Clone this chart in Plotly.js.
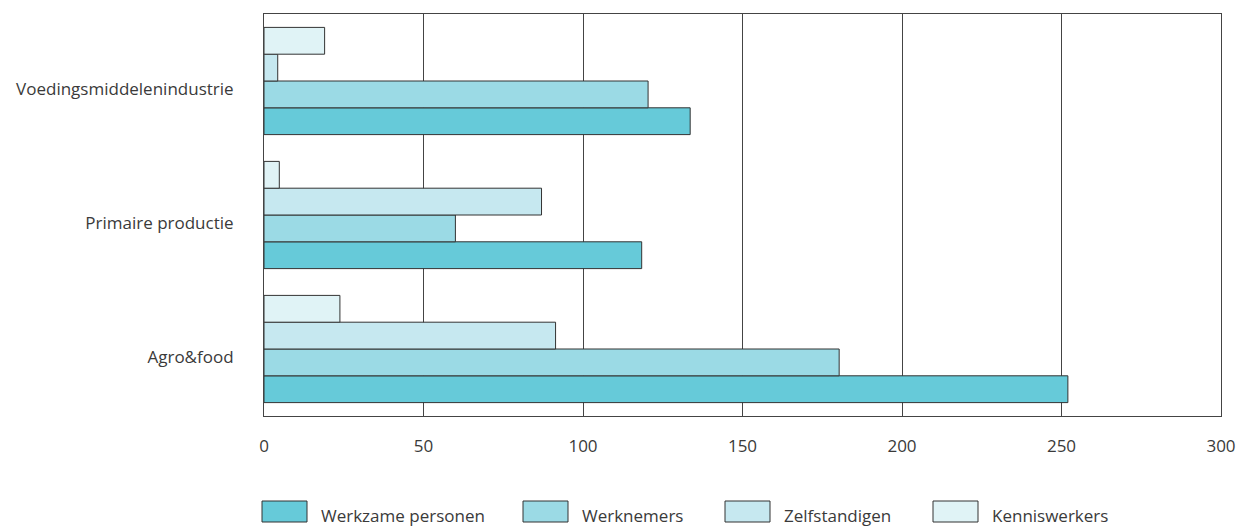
<!DOCTYPE html>
<html>
<head>
<meta charset="utf-8">
<script src="https://cdn.plot.ly/plotly-3.0.1.min.js"></script>
<style>html,body{margin:0;padding:0;background:#fff;}#chart{width:1239px;height:526px;}</style>
</head>
<body>
<div id="chart"></div>
<script>
const categories = ['Agro&food', 'Primaire productie', 'Voedingsmiddelenindustrie'];
const seriesNames = ['Werkzame personen', 'Werknemers', 'Zelfstandigen', 'Kenniswerkers'];
const werkzamePersonen = [252, 118.4, 133.6];
const werknemers = [180.3, 60, 120.4];
const zelfstandigen = [91.4, 87, 4.3];
const kenniswerkers = [23.8, 4.8, 19];
const xTicks = [0, 50, 100, 150, 200, 250, 300];

const seriesValues = [werkzamePersonen, werknemers, zelfstandigen, kenniswerkers];
const colors = ['#66cad9', '#9bdae5', '#c6e8f0', '#e0f3f6'];
const fontFam = '"Open Sans", sans-serif';
const textColor = '#3a3a3a';
const fontSize = 17;

const W = 1239, H = 526;
const m = {l: 264, r: 18, t: 14, b: 110};
const pw = W - m.l - m.r, ph = H - m.t - m.b;
const px2x = px => (px - m.l) / pw;
const py2y = py => (H - m.b - py) / ph;

const traces = seriesNames.map((name, i) => ({
  type: 'bar',
  orientation: 'h',
  name: name,
  y: categories,
  x: seriesValues[i],
  marker: {color: colors[i], line: {color: '#333333', width: 1}},
  showlegend: false,
  hoverinfo: 'x+name'
}));

// custom legend with wide boxes
const boxLeft = [262, 523, 725, 933];
const boxW = 45, boxTop = 501, boxBot = 522;
const shapes = [];
const annotations = [];
seriesNames.forEach((name, i) => {
  shapes.push({
    type: 'rect', xref: 'paper', yref: 'paper',
    x0: px2x(boxLeft[i]), x1: px2x(boxLeft[i] + boxW),
    y0: py2y(boxBot), y1: py2y(boxTop),
    fillcolor: colors[i], line: {color: '#333333', width: 1}
  });
  annotations.push({
    xref: 'paper', yref: 'paper',
    x: px2x(boxLeft[i] + boxW + 12), y: py2y((boxTop + boxBot) / 2 + 4),
    xanchor: 'left', yanchor: 'middle', showarrow: false,
    text: name, font: {family: fontFam, size: fontSize, color: textColor}
  });
});

const layout = {
  width: W, height: H,
  margin: m,
  paper_bgcolor: '#ffffff', plot_bgcolor: '#ffffff',
  barmode: 'group',
  bargap: 0.2,
  bargroupgap: 0,
  font: {family: fontFam, size: fontSize, color: textColor},
  xaxis: {
    range: [0, 300],
    tickvals: xTicks,
    ticktext: xTicks.map(String),
    showgrid: true, gridcolor: '#444444', gridwidth: 1,
    zeroline: false,
    showline: true, linecolor: '#444444', linewidth: 1, mirror: true,
    ticks: '', ticklabelstandoff: 15,
    tickfont: {family: fontFam, size: fontSize, color: textColor},
    fixedrange: true
  },
  yaxis: {
    type: 'category',
    categoryorder: 'array', categoryarray: categories,
    range: [-0.5, 2.5],
    showgrid: false, zeroline: false,
    showline: true, linecolor: '#444444', linewidth: 1, mirror: true,
    ticks: '', ticklabelstandoff: 26, ticklabelshift: 8,
    tickfont: {family: fontFam, size: fontSize, color: textColor},
    fixedrange: true
  },
  shapes: shapes,
  annotations: annotations,
  showlegend: false
};

Plotly.newPlot('chart', traces, layout, {displayModeBar: false, staticPlot: true});
</script>
</body>
</html>
